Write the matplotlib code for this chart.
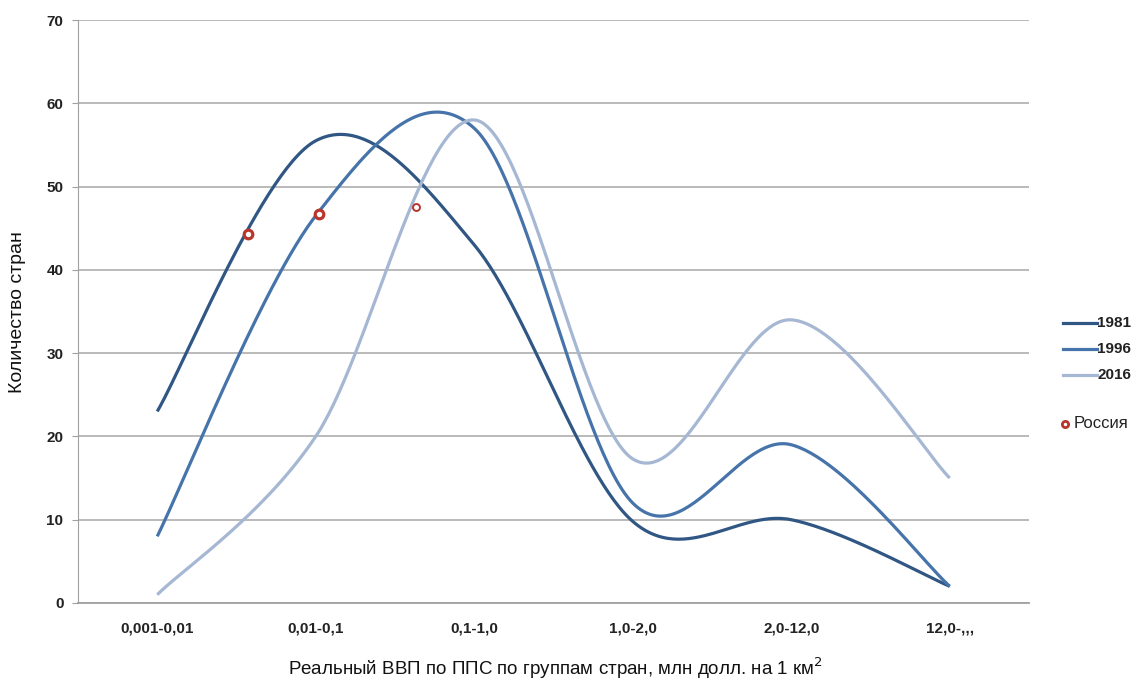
import numpy as np
import matplotlib
matplotlib.use("Agg")
import matplotlib.pyplot as plt
from matplotlib.lines import Line2D

plt.rcParams['font.family'] = ['Liberation Sans', 'DejaVu Sans']

# data
groups = ["0,001-0,01", "0,01-0,1", "0,1-1,0", "1,0-2,0", "2,0-12,0", "12,0-,,,"]
years = ["1981", "1996", "2016"]
v1981 = [23, 55.5, 43, 9.8, 10, 2]
v1996 = [8, 46.5, 57, 12, 19, 2]
v2016 = [1, 20, 58, 17.3, 34, 15]
colors_ = ["#305784", "#4674aa", "#a5b7d3"]

# Russia: position between the group centres, number of countries
russia_x = [0.57, 1.02, 1.63]
russia_y = [44.3, 46.7, 47.5]
russia_size = [6.2, 6.2, 5.0]
russia_edge = [2.3, 2.3, 1.4]
red = '#b8362c'

W, H = 1135, 682
fig = plt.figure(figsize=(W / 100, H / 100), dpi=100)
L, R, B, T = 78, 1029, 603, 20
ax = fig.add_axes([L / W, 1 - B / H, (R - L) / W, (B - T) / H])

xs = np.arange(len(groups))
# pixel scale, so the smoothing behaves like the spreadsheet one
sx = (R - L) / 6.0
sy = (B - T) / 70.0


def smooth(x, y, n=60):
    # catmull-rom written as bezier pieces (control = P1 + (P2-P0)/6), in pixel space
    P = np.column_stack([np.asarray(x, float) * sx, np.asarray(y, float) * sy])
    P = np.vstack([P[0], P, P[-1]])
    out = []
    t = np.linspace(0, 1, n)[:, None]
    for i in range(1, len(P) - 2):
        p0, p1, p2, p3 = P[i - 1], P[i], P[i + 1], P[i + 2]
        c1 = p1 + (p2 - p0) / 6
        c2 = p2 - (p3 - p1) / 6
        seg = (1 - t) ** 3 * p1 + 3 * (1 - t) ** 2 * t * c1 + 3 * (1 - t) * t ** 2 * c2 + t ** 3 * p2
        out.append(seg)
    out = np.vstack(out)
    return out[:, 0] / sx, out[:, 1] / sy


for vals, c, lab in zip([v1981, v1996, v2016], colors_, years):
    cx, cy = smooth(xs, vals)
    ax.plot(cx, cy, color=c, lw=2.3, label=lab, solid_capstyle='butt', zorder=3)

for rx, ry, ms, ew in zip(russia_x, russia_y, russia_size, russia_edge):
    ax.plot(rx, ry, 'o', ms=ms, mfc='white', mec=red, mew=ew, zorder=5)

ax.set_xlim(-0.5, 5.5)
ax.set_ylim(0, 70)
ax.set_yticks(range(0, 71, 10))
ax.set_xticks(xs)
ax.set_xticklabels(groups)
ax.yaxis.grid(True, color='#b4b4b4', lw=1.3)
ax.set_axisbelow(True)
for s in ['top', 'right']:
    ax.spines[s].set_visible(False)
ax.spines['left'].set_color('#a0a0a0')
ax.spines['bottom'].set_color('#a0a0a0')
ax.spines['bottom'].set_linewidth(1.3)
ax.tick_params(axis='y', length=4.5, color='#a0a0a0', pad=6, labelsize=11, labelcolor='#222222')
ax.tick_params(axis='x', length=0, pad=13, labelsize=11, labelcolor='#222222')
for lb in ax.get_xticklabels() + ax.get_yticklabels():
    lb.set_fontweight('bold')

fig.text(18 / W, 1 - 312 / H, "Количество стран", rotation=90, ha='center', va='center',
         fontsize=14, color='#111111')
fig.text(555 / W, 1 - 668 / H, "Реальный ВВП по ППС по группам стран, млн долл. на 1 км$^2$",
         ha='center', va='center', fontsize=13.5, color='#111111')

# legend, placed by hand on the right
for c, lab, yy in zip(colors_, years, [323, 349, 375]):
    fig.add_artist(Line2D([1063 / W, 1097 / W], [1 - yy / H, 1 - yy / H], color=c, lw=2.3,
                          transform=fig.transFigure))
    fig.text(1097 / W, 1 - yy / H, lab, ha='left', va='center', fontsize=11,
             fontweight='bold', color='#222222')
fig.add_artist(Line2D([1065 / W], [1 - 424 / H], ls='none', marker='o', ms=4.5, mfc='white',
                      mec=red, mew=2.0, transform=fig.transFigure))
fig.text(1074 / W, 1 - 424 / H, "Россия", ha='left', va='center', fontsize=12, color='#222222')

fig.savefig("out.png", dpi=100)
